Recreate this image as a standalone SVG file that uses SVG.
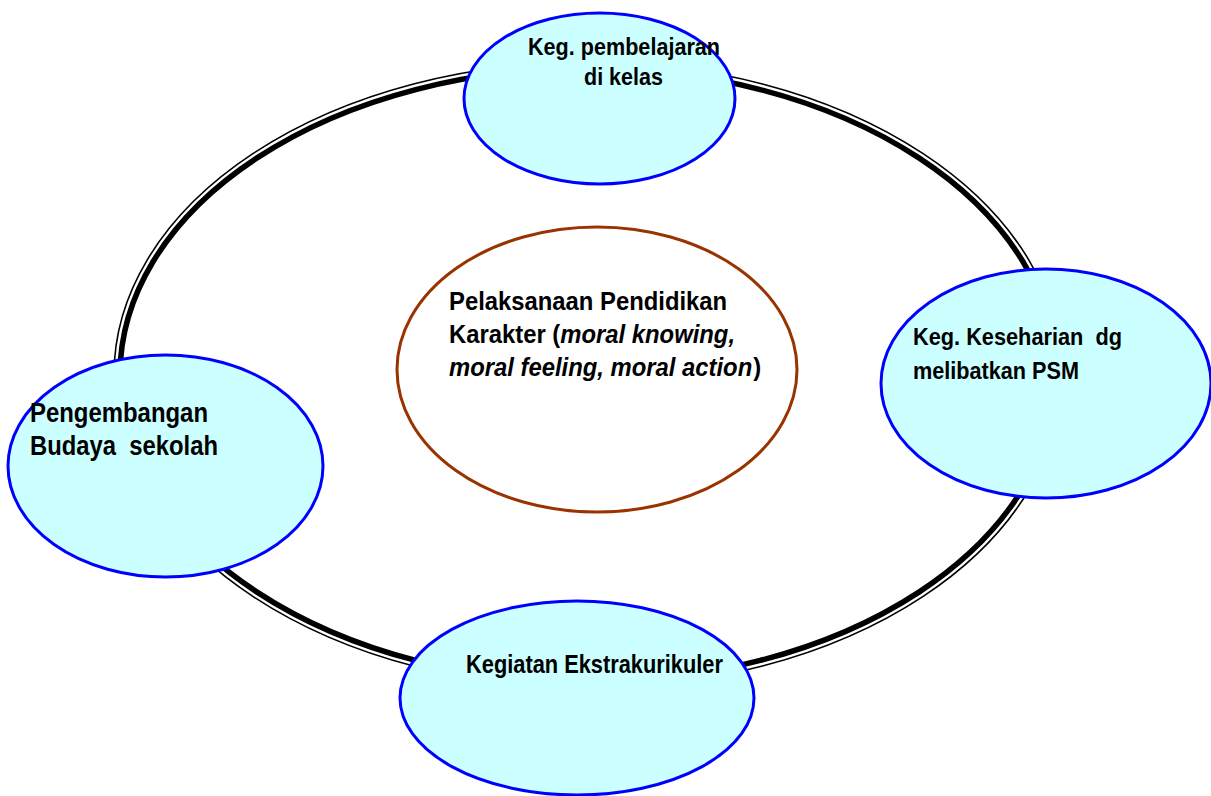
<svg xmlns="http://www.w3.org/2000/svg" width="1211" height="796" viewBox="0 0 1211 796">
<style>
.node{fill:#ccffff;stroke:#0000ff;stroke-width:3}
.lbl{font-family:"Liberation Sans",Arial,sans-serif;font-weight:bold;fill:#000;white-space:pre}
.it{font-style:italic}
</style>
<rect width="1211" height="796" fill="#ffffff"/>
<g id="connectors">
  <ellipse cx="588" cy="375" rx="474" ry="313" fill="none" stroke="#000" stroke-width="1.6"/>
  <ellipse cx="588" cy="375" rx="468" ry="307" fill="none" stroke="#000" stroke-width="5.5"/>
</g>
<g id="center">
  <ellipse cx="597" cy="369.5" rx="200" ry="142.5" fill="#ffffff" stroke="#993300" stroke-width="3"/>
  <g transform="translate(449,0) scale(0.935,1)">
    <text class="lbl" x="0" y="310" font-size="25.5">Pelaksanaan Pendidikan</text>
    <text class="lbl" x="0" y="343" font-size="25.5">Karakter (<tspan class="it">moral knowing,</tspan></text>
    <text class="lbl" x="0" y="376" font-size="25.5"><tspan class="it">moral feeling, moral action</tspan><tspan dx="1">)</tspan></text>
  </g>
</g>
<g id="node-top">
  <ellipse class="node" cx="599.5" cy="98.5" rx="135.5" ry="85.5"/>
  <text class="lbl" x="528" y="55" font-size="24.5" textLength="192" lengthAdjust="spacingAndGlyphs">Keg. pembelajaran</text>
  <text class="lbl" x="584" y="85" font-size="24.5" textLength="79" lengthAdjust="spacingAndGlyphs">di kelas</text>
</g>
<g id="node-right">
  <ellipse class="node" cx="1046" cy="383.5" rx="165" ry="114.5"/>
  <text class="lbl" x="913" y="345" font-size="24.5" textLength="209" lengthAdjust="spacingAndGlyphs">Keg. Keseharian  dg</text>
  <text class="lbl" x="913" y="379" font-size="24.5" textLength="166" lengthAdjust="spacingAndGlyphs">melibatkan PSM</text>
</g>
<g id="node-left">
  <ellipse class="node" cx="165.5" cy="466" rx="157.5" ry="111"/>
  <text class="lbl" x="30" y="422" font-size="27" textLength="178" lengthAdjust="spacingAndGlyphs">Pengembangan</text>
  <text class="lbl" x="30" y="455" font-size="27" textLength="188" lengthAdjust="spacingAndGlyphs">Budaya  sekolah</text>
</g>
<g id="node-bottom">
  <ellipse class="node" cx="577" cy="698" rx="177" ry="97"/>
  <text class="lbl" x="466" y="673" font-size="25.5" textLength="257" lengthAdjust="spacingAndGlyphs">Kegiatan Ekstrakurikuler</text>
</g>
</svg>
